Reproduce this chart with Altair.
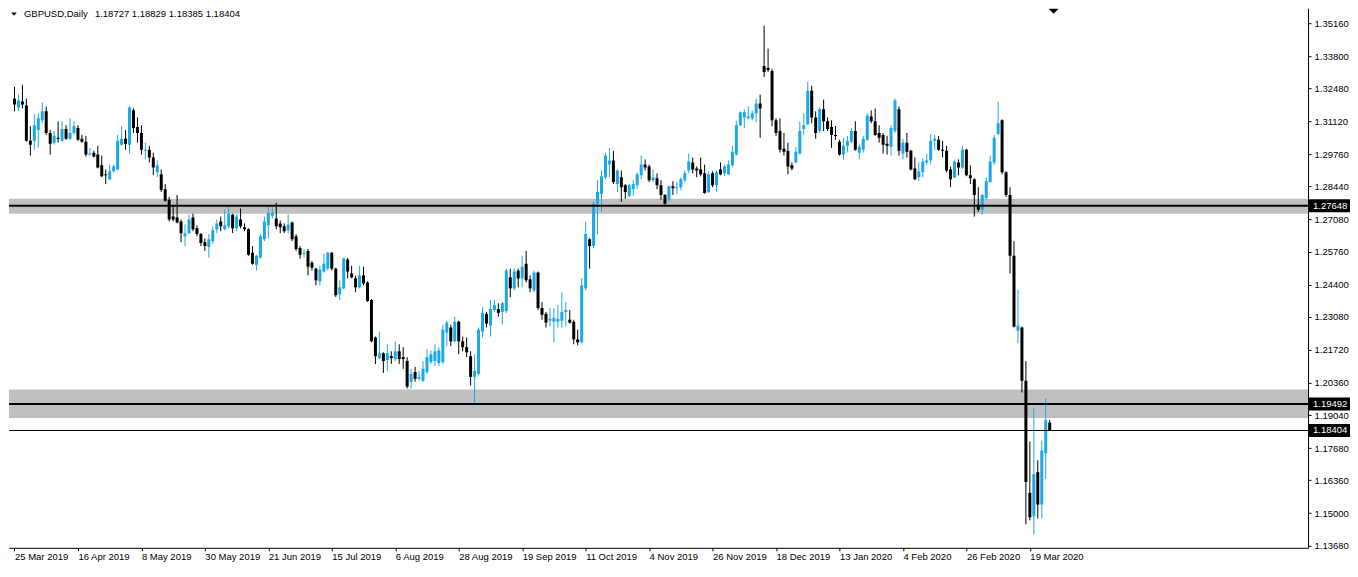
import json
import altair as alt
import pandas as pd

# ---- data (daily GBPUSD bars, oldest first) ----
opens = [1.3205,1.3169,1.3193,1.3177,1.3032,1.3032,1.3076,1.3116,1.3153,1.3064,
1.3024,1.3044,1.3032,1.3080,1.3040,1.3064,1.3084,1.3040,1.3028,1.2975,
1.2983,1.2975,1.2931,1.2894,1.2874,1.2906,1.2914,1.3016,1.3040,1.3016,
1.3157,1.3088,1.3064,1.2991,1.2995,1.2963,1.2902,1.2894,1.2833,1.2789,
1.2720,1.2716,1.2700,1.2639,1.2652,1.2716,1.2672,1.2648,1.2615,1.2595,
1.2619,1.2668,1.2700,1.2668,1.2680,1.2728,1.2672,1.2708,1.2676,1.2668,
1.2571,1.2522,1.2551,1.2627,1.2684,1.2724,1.2712,1.2692,1.2680,1.2664,
1.2696,1.2639,1.2591,1.2567,1.2579,1.2530,1.2506,1.2454,1.2494,1.2506,
1.2571,1.2506,1.2401,1.2425,1.2543,1.2486,1.2466,1.2429,1.2478,1.2449,
1.2377,1.2223,1.2138,1.2158,1.2130,1.2146,1.2134,1.2166,1.2142,1.2126,
1.2041,1.2081,1.2053,1.2045,1.2081,1.2122,1.2126,1.2118,1.2122,1.2243,
1.2264,1.2207,1.2288,1.2207,1.2183,1.2146,1.2061,1.2073,1.2247,1.2320,
1.2272,1.2336,1.2340,1.2328,1.2332,1.2470,1.2425,1.2498,1.2466,1.2526,
1.2462,1.2417,1.2490,1.2344,1.2320,1.2292,1.2288,1.2288,1.2292,1.2328,
1.2296,1.2288,1.2215,1.2203,1.2425,1.2627,1.2599,1.2773,1.2813,1.2882,
1.2934,1.2951,1.2854,1.2882,1.2849,1.2805,1.2833,1.2849,1.2890,1.2934,
1.2926,1.2870,1.2878,1.2849,1.2809,1.2789,1.2845,1.2837,1.2841,1.2870,
1.2910,1.2943,1.2918,1.2914,1.2898,1.2821,1.2898,1.2849,1.2914,1.2898,
1.2894,1.2931,1.2975,1.3096,1.3128,1.3124,1.3124,1.3145,1.3185,1.3339,
1.3331,1.3319,1.3116,1.3072,1.2999,1.2991,1.2931,1.2943,1.2979,1.3080,
1.3100,1.3238,1.3128,1.3072,1.3161,1.3112,1.3088,1.3056,1.3028,1.2975,
1.3011,1.3028,1.3072,1.2983,1.2995,1.3036,1.3132,1.3112,1.3064,1.3056,
1.3020,1.3007,1.3072,1.3161,1.2979,1.3024,1.2991,1.2918,1.2882,1.2902,
1.2943,1.2951,1.3032,1.3036,1.2995,1.2991,1.2914,1.2882,1.2943,1.2922,
1.2995,1.2890,1.2874,1.2769,1.2748,1.2797,1.2862,1.2943,1.3060,1.3116,
1.2902,1.2809,1.2559,1.2251,1.2264,1.2045,1.1584,1.1488,1.1669,1.1536,
1.1746,1.18727]
highs = [1.3254,1.3222,1.3262,1.3205,1.3092,1.3141,1.3145,1.3189,1.3173,1.3076,
1.3072,1.3112,1.3112,1.3096,1.3124,1.3112,1.3096,1.3056,1.3052,1.3003,
1.2991,1.3011,1.2971,1.2914,1.2934,1.2934,1.3056,1.3092,1.3076,1.3173,
1.3165,1.3128,1.3096,1.3024,1.3011,1.2983,1.2951,1.2914,1.2854,1.2801,
1.2761,1.2809,1.2708,1.2688,1.2728,1.2732,1.2684,1.2652,1.2631,1.2648,
1.2680,1.2708,1.2720,1.2749,1.2761,1.2732,1.2728,1.2753,1.2692,1.2672,
1.2599,1.2563,1.2648,1.2720,1.2761,1.2761,1.2777,1.2704,1.2692,1.2728,
1.2700,1.2648,1.2599,1.2587,1.2587,1.2538,1.2510,1.2518,1.2567,1.2575,
1.2575,1.2510,1.2458,1.2551,1.2551,1.2518,1.2478,1.2518,1.2514,1.2454,
1.2381,1.2227,1.2247,1.2162,1.2195,1.2166,1.2207,1.2195,1.2183,1.2142,
1.2094,1.2102,1.2085,1.2126,1.2174,1.2170,1.2195,1.2183,1.2276,1.2292,
1.2276,1.2308,1.2292,1.2227,1.2223,1.2166,1.2154,1.2264,1.2348,1.2328,
1.2377,1.2377,1.2364,1.2369,1.2506,1.2506,1.2506,1.2506,1.2559,1.2579,
1.2478,1.2498,1.2494,1.2369,1.2328,1.2344,1.2344,1.2356,1.2409,1.2369,
1.2336,1.2296,1.2255,1.2466,1.2700,1.2631,1.2781,1.2870,1.2910,1.2983,
1.3003,1.2991,1.2914,1.2910,1.2854,1.2854,1.2870,1.2902,1.2971,1.2955,
1.2934,1.2914,1.2898,1.2870,1.2813,1.2849,1.2866,1.2862,1.2882,1.2910,
1.2979,1.2963,1.2926,1.2963,1.2934,1.2906,1.2906,1.2910,1.2943,1.2934,
1.2951,1.3011,1.3112,1.3153,1.3161,1.3173,1.3157,1.3205,1.3222,1.3505,
1.3411,1.3327,1.3124,1.3124,1.3064,1.3024,1.2943,1.3007,1.3112,1.3145,
1.3274,1.3258,1.3153,1.3169,1.3201,1.3128,1.3116,1.3092,1.3036,1.3044,
1.3052,1.3084,1.3112,1.3016,1.3052,1.3145,1.3157,1.3165,1.3096,1.3064,
1.3052,1.3096,1.3205,1.3173,1.3040,1.3064,1.2995,1.2963,1.2943,1.2959,
1.2979,1.3060,1.3056,1.3052,1.3032,1.3011,1.2926,1.2951,1.2955,1.3011,
1.2999,1.2931,1.2878,1.2841,1.2813,1.2882,1.2971,1.3056,1.3193,1.3120,
1.2906,1.2841,1.2619,1.2421,1.2268,1.2126,1.1795,1.1932,1.1718,1.1799,
1.1972,1.18829]
lows = [1.3153,1.3153,1.3165,1.3028,1.2971,1.2995,1.3003,1.3104,1.3056,1.2975,
1.3016,1.3024,1.3028,1.3036,1.3036,1.3056,1.3032,1.3024,1.2967,1.2971,
1.2963,1.2918,1.2882,1.2854,1.2870,1.2902,1.2910,1.3012,1.2995,1.2979,
1.3064,1.3024,1.2975,1.2955,1.2943,1.2890,1.2882,1.2821,1.2781,1.2700,
1.2700,1.2692,1.2615,1.2599,1.2648,1.2660,1.2639,1.2599,1.2579,1.2551,
1.2607,1.2652,1.2660,1.2664,1.2672,1.2652,1.2660,1.2672,1.2660,1.2559,
1.2522,1.2498,1.2547,1.2619,1.2631,1.2712,1.2668,1.2652,1.2652,1.2652,
1.2619,1.2579,1.2547,1.2551,1.2478,1.2498,1.2437,1.2437,1.2490,1.2498,
1.2498,1.2389,1.2377,1.2421,1.2466,1.2466,1.2409,1.2425,1.2437,1.2369,
1.2203,1.2114,1.2134,1.2077,1.2085,1.2114,1.2126,1.2114,1.2094,1.2013,
1.2013,1.2041,1.2045,1.2041,1.2073,1.2114,1.2106,1.2106,1.2114,1.2187,
1.2187,1.2203,1.2154,1.2166,1.2142,1.2025,1.1952,1.2065,1.2223,1.2264,
1.2227,1.2328,1.2308,1.2276,1.2324,1.2389,1.2417,1.2429,1.2429,1.2449,
1.2409,1.2409,1.2336,1.2296,1.2264,1.2268,1.2203,1.2264,1.2264,1.2268,
1.2280,1.2195,1.2191,1.2199,1.2417,1.2506,1.2591,1.2648,1.2740,1.2874,
1.2882,1.2854,1.2821,1.2781,1.2793,1.2801,1.2805,1.2833,1.2874,1.2910,
1.2862,1.2862,1.2833,1.2789,1.2769,1.2781,1.2809,1.2813,1.2829,1.2862,
1.2898,1.2898,1.2882,1.2886,1.2813,1.2817,1.2841,1.2821,1.2890,1.2886,
1.2890,1.2922,1.2971,1.3092,1.3084,1.3120,1.3116,1.3108,1.3044,1.3294,
1.3315,1.3092,1.3052,1.2983,1.2971,1.2894,1.2910,1.2939,1.2975,1.3056,
1.3096,1.3104,1.3040,1.3064,1.3072,1.3072,1.3003,1.3036,1.2971,1.2955,
1.2983,1.3024,1.2991,1.2955,1.2983,1.3032,1.3104,1.3052,1.3024,1.2979,
1.2975,1.2971,1.3064,1.2971,1.2955,1.2963,1.2910,1.2870,1.2866,1.2882,
1.2934,1.2934,1.2995,1.2991,1.2963,1.2902,1.2841,1.2878,1.2890,1.2918,
1.2886,1.2854,1.2720,1.2740,1.2728,1.2789,1.2858,1.2934,1.3056,1.2894,
1.2801,1.2486,1.2264,1.2199,1.1997,1.1455,1.1471,1.1414,1.1479,1.1479,
1.1641,1.18385]
closes = [1.3181,1.3197,1.3181,1.3032,1.3016,1.3096,1.3124,1.3153,1.3064,1.3020,
1.3052,1.3040,1.3080,1.3040,1.3064,1.3092,1.3036,1.3028,1.2975,1.2979,
1.2967,1.2922,1.2886,1.2890,1.2906,1.2926,1.3032,1.3040,1.3020,1.3169,
1.3084,1.3064,1.2995,1.2995,1.2963,1.2922,1.2931,1.2829,1.2785,1.2708,
1.2708,1.2696,1.2652,1.2652,1.2708,1.2668,1.2648,1.2611,1.2599,1.2627,
1.2664,1.2692,1.2680,1.2684,1.2732,1.2672,1.2720,1.2680,1.2668,1.2563,
1.2526,1.2559,1.2639,1.2700,1.2736,1.2736,1.2680,1.2676,1.2660,1.2688,
1.2627,1.2587,1.2563,1.2571,1.2514,1.2510,1.2458,1.2502,1.2526,1.2571,
1.2506,1.2397,1.2429,1.2547,1.2494,1.2470,1.2429,1.2478,1.2445,1.2373,
1.2207,1.2146,1.2158,1.2126,1.2158,1.2138,1.2166,1.2134,1.2134,1.2021,
1.2073,1.2053,1.2061,1.2094,1.2142,1.2154,1.2166,1.2170,1.2255,1.2284,
1.2207,1.2288,1.2207,1.2183,1.2162,1.2061,1.2085,1.2255,1.2324,1.2280,
1.2340,1.2356,1.2324,1.2364,1.2498,1.2425,1.2494,1.2466,1.2514,1.2458,
1.2425,1.2490,1.2344,1.2316,1.2284,1.2300,1.2304,1.2300,1.2328,1.2336,
1.2284,1.2215,1.2203,1.2437,1.2648,1.2599,1.2773,1.2821,1.2886,1.2971,
1.2951,1.2862,1.2910,1.2841,1.2821,1.2849,1.2854,1.2894,1.2934,1.2922,
1.2870,1.2882,1.2849,1.2809,1.2773,1.2845,1.2837,1.2841,1.2874,1.2898,
1.2947,1.2914,1.2910,1.2894,1.2817,1.2894,1.2849,1.2902,1.2894,1.2926,
1.2934,1.2987,1.3096,1.3149,1.3149,1.3132,1.3145,1.3185,1.3165,1.3315,
1.3323,1.3116,1.3064,1.2995,1.2987,1.2926,1.2918,1.2987,1.3072,1.3096,
1.3238,1.3128,1.3064,1.3161,1.3112,1.3080,1.3056,1.3052,1.2975,1.3011,
1.3032,1.3072,1.2995,1.3007,1.3040,1.3136,1.3112,1.3056,1.3044,1.3016,
1.3011,1.3084,1.3197,1.2991,1.3024,1.2987,1.2914,1.2874,1.2906,1.2947,
1.2951,1.3032,1.3040,1.2995,1.2991,1.2910,1.2874,1.2947,1.2922,1.2995,
1.2890,1.2878,1.2809,1.2748,1.2809,1.2866,1.2947,1.3044,1.3104,1.2902,
1.2809,1.2559,1.2268,1.2272,1.2045,1.1629,1.1484,1.1661,1.1536,1.1758,
1.1884,1.18404]

date_tick_bars = [0, 16, 32, 48, 64, 80, 96, 112, 128, 144, 160, 176, 192, 208, 224, 240, 256]
date_tick_labels = ["25 Mar 2019", "16 Apr 2019", "8 May 2019", "30 May 2019", "21 Jun 2019",
                    "15 Jul 2019", "6 Aug 2019", "28 Aug 2019", "19 Sep 2019", "11 Oct 2019",
                    "4 Nov 2019", "26 Nov 2019", "18 Dec 2019", "13 Jan 2020", "4 Feb 2020",
                    "26 Feb 2020", "19 Mar 2020"]
price_ticks = [1.35160, 1.33800, 1.32480, 1.31120, 1.29760, 1.28440, 1.27080, 1.25760,
               1.24400, 1.23080, 1.21720, 1.20360, 1.19040, 1.17680, 1.16360, 1.15000, 1.13680]
zone_tops = [1.2793, 1.2009]
zone_bottoms = [1.2732, 1.1892]
zone_lines = [1.27648, 1.19492]
last_price = 1.18404
symbol_name = "GBPUSD,Daily"
header_values = "1.18727 1.18829 1.18385 1.18404"
shift_bar = [262]

# ---- layout / style ----
W, H = 1300, 540
X_DOM = [-0.125, 324.875]
Y_DOM = [1.1358, 1.3577]
BULL = "#1BA8E8"
BEAR = "#000000"
ZONE = "#C0C0C0"
FONT = "Liberation Sans"
FS = 9.5
px = (Y_DOM[1] - Y_DOM[0]) / H

n = len(closes)
df = pd.DataFrame({"bar": list(range(n)), "open": opens, "high": highs,
                   "low": lows, "close": closes})
df["dir"] = ["up" if c > o else "down" for o, c in zip(opens, closes)]
mid = (df["open"] + df["close"]) / 2
half = ((df["open"] - df["close"]).abs() / 2).clip(lower=px / 2)
df["btop"] = mid + half
df["bbot"] = mid - half

xs = alt.Scale(domain=X_DOM, nice=False, zero=False)
ys = alt.Scale(domain=Y_DOM, nice=False, zero=False)
color = alt.Color("dir:N", scale=alt.Scale(domain=["up", "down"], range=[BULL, BEAR]), legend=None)

label_expr = json.dumps(date_tick_labels) + "[round(datum.value / 16)]"
x_axis = alt.Axis(values=date_tick_bars, labelExpr=label_expr, labelAlign="left",
                  labelBaseline="top", labelPadding=1, tickSize=3, grid=False, title=None,
                  domainColor="black", tickColor="black", labelColor="black",
                  labelFont=FONT, labelFontSize=FS, labelOverlap=False, labelFlush=False,
                  labelBound=False)
y_axis = alt.Axis(orient="right", values=price_ticks, format=".5f", tickSize=3,
                  labelPadding=3, grid=False, title=None, domainColor="black",
                  tickColor="black", labelColor="black", labelFont=FONT, labelFontSize=FS,
                  labelOverlap=False, labelFlush=False, labelBound=False)

zones = pd.DataFrame({"top": zone_tops, "bot": zone_bottoms})
zone_rect = alt.Chart(zones).mark_rect(color=ZONE).encode(
    x=alt.value(0), x2=alt.value(W),
    y=alt.Y("top:Q", scale=ys, axis=y_axis), y2="bot:Q")

wicks = alt.Chart(df).mark_rule(strokeWidth=1, clip=True).encode(
    x=alt.X("bar:Q", scale=xs, axis=x_axis),
    y=alt.Y("low:Q", scale=ys, axis=y_axis),
    y2="high:Q", color=color)
bodies = alt.Chart(df).mark_bar(size=3, clip=True).encode(
    x=alt.X("bar:Q", scale=xs, axis=x_axis),
    y=alt.Y("bbot:Q", scale=ys, axis=y_axis), y2="btop:Q", color=color)

lines = alt.Chart(pd.DataFrame({"p": zone_lines})).mark_rule(color="black", strokeWidth=2).encode(
    x=alt.value(0), x2=alt.value(W + 1), y=alt.Y("p:Q", scale=ys, axis=y_axis))
cur_line = alt.Chart(pd.DataFrame({"p": [last_price]})).mark_rule(color="black", strokeWidth=1).encode(
    x=alt.value(0), x2=alt.value(W), y=alt.Y("p:Q", scale=ys, axis=y_axis))

tags = pd.DataFrame({"p": zone_lines + [last_price]})
tags["top"] = tags["p"] + 6.5 * px
tags["bot"] = tags["p"] - 6.5 * px
tag_box = alt.Chart(tags).mark_rect(color="black").encode(
    x=alt.value(W + 1), x2=alt.value(W + 42),
    y=alt.Y("top:Q", scale=ys, axis=y_axis), y2="bot:Q")
tag_text = alt.Chart(tags).mark_text(align="left", baseline="middle", color="white",
                                     font=FONT, fontSize=FS).encode(
    x=alt.value(W + 5), y=alt.Y("p:Q", scale=ys, axis=y_axis),
    text=alt.Text("p:Q", format=".5f"))

one = pd.DataFrame({"k": [0]})
hdr_tri = alt.Chart(one).mark_point(shape="M-1,-0.6L1,-0.6L0,0.6Z", filled=True, color="black",
                                    opacity=1, size=30, strokeWidth=0).encode(
    x=alt.value(5), y=alt.value(6))
hdr_name = alt.Chart(pd.DataFrame({"t": [symbol_name]})).mark_text(
    align="left", baseline="top", font=FONT, fontSize=FS, color="black").encode(
    x=alt.value(15), y=alt.value(1), text="t:N")
hdr_vals = alt.Chart(pd.DataFrame({"t": [header_values]})).mark_text(
    align="left", baseline="top", font=FONT, fontSize=FS, color="black").encode(
    x=alt.value(86), y=alt.value(1), text="t:N")
shift_mark = alt.Chart(pd.DataFrame({"bar": shift_bar})).mark_point(
    shape="M-1,-0.5L1,-0.5L0,0.5Z", filled=True, color="black", opacity=1, size=100,
    strokeWidth=0).encode(x=alt.X("bar:Q", scale=xs, axis=x_axis), y=alt.value(3))

chart = alt.layer(zone_rect, wicks, bodies, lines, cur_line, tag_box, tag_text,
                  hdr_tri, hdr_name, hdr_vals, shift_mark).properties(
    width=W, height=H, padding=0, background="white"
).configure_view(stroke=None)

chart.save("out.html", embed_options={"renderer": "svg", "actions": False})
